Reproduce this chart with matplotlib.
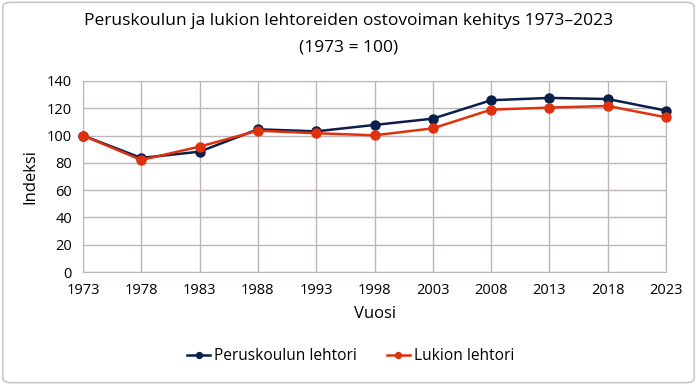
import matplotlib
matplotlib.use("Agg")
import matplotlib.pyplot as plt
from matplotlib.patches import FancyBboxPatch

years = [1973, 1978, 1983, 1988, 1993, 1998, 2003, 2008, 2013, 2018, 2023]
peruskoulu = [100, 83.6, 88.2, 104.6, 103.1, 107.8, 112.4, 125.9, 127.6, 126.8, 118.3]
lukio = [100, 82.1, 91.9, 103.6, 101.7, 100.2, 105.3, 119.0, 120.5, 121.7, 113.4]
y_ticks = [0, 20, 40, 60, 80, 100, 120, 140]

plt.rcParams['font.family'] = ['Open Sans', 'DejaVu Sans']

fig = plt.figure(figsize=(6.97, 3.85), dpi=100)
border = FancyBboxPatch((0.004, 0.006), 0.992, 0.988, boxstyle="round,pad=0,rounding_size=0.012",
                        transform=fig.transFigure, facecolor='white', edgecolor='#c8c8c8',
                        linewidth=1.2, zorder=-10)
fig.patches.append(border)
ax = fig.add_axes([83 / 697, 1 - 272 / 385, (666 - 83) / 697, (272 - 81) / 385])
ax.set_facecolor('none')

grid_c = '#bdb5b8'
ax.plot(years, peruskoulu, color='#0b1f4b', marker='o', markersize=6.5, linewidth=1.8,
        label='Peruskoulun lehtori', zorder=3, clip_on=False)
ax.plot(years, lukio, color='#e0300c', marker='o', markersize=6.5, linewidth=1.8,
        label='Lukion lehtori', zorder=4, clip_on=False)

ax.set_xlim(1973, 2023)
ax.set_ylim(0, 140)
ax.set_xticks(years)
ax.set_yticks(y_ticks)
ax.grid(True, color=grid_c, linewidth=1.0)
for s in ax.spines.values():
    s.set_color(grid_c)
ax.tick_params(length=0, labelsize=10.5, pad=8)
ax.set_xlabel('Vuosi', fontsize=12, labelpad=6)
ax.set_ylabel('Indeksi', fontsize=12, labelpad=6)

fig.text(0.5, 1 - 34 / 385, 'Peruskoulun ja lukion lehtoreiden ostovoiman kehitys 1973–2023\n(1973 = 100)',
         ha='center', va='center', fontsize=12.5, linespacing=1.85)
handles, labels = ax.get_legend_handles_labels()
fig.legend(handles, labels, loc='center', bbox_to_anchor=(0.503, 1 - 356 / 385), ncol=2, frameon=False,
           fontsize=11.2, handlelength=1.5, handletextpad=0.25, columnspacing=1.9, markerscale=0.65)

fig.savefig('out.png', dpi=100)
